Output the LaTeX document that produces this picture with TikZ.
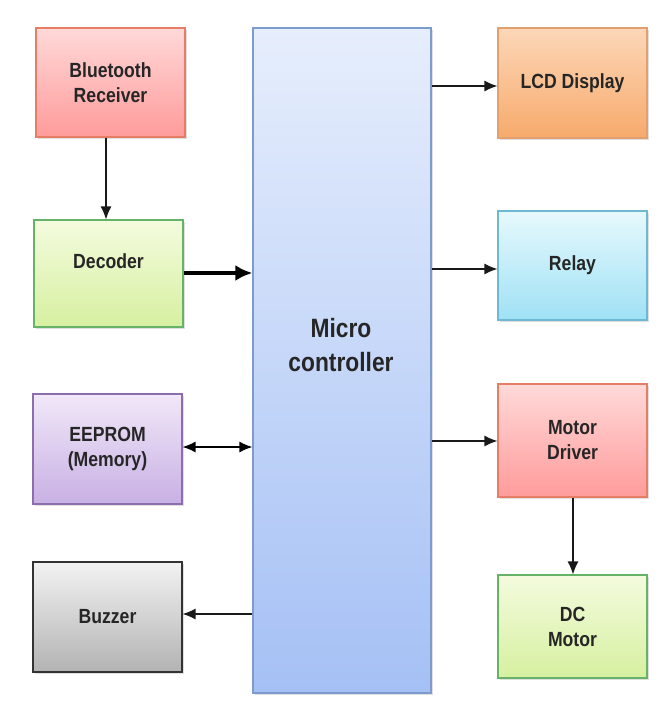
\documentclass[tikz,border=0pt]{standalone}
\usepackage{fontspec}
\setmainfont{Liberation Sans}[FakeStretch=0.86]
\usetikzlibrary{arrows.meta,shadows}

\definecolor{txt}{HTML}{262626}
\tikzset{
  blk/.style={draw, line width=1.1pt, minimum width=149pt, minimum height=109pt,
    inner sep=0pt, align=center, text=txt,
    font=\bfseries\fontsize{20.5}{25}\selectfont,
    drop shadow={opacity=0.25, shadow xshift=1.6pt, shadow yshift=-1.6pt}},
  redblk/.style={blk, draw=red!45!brown!70, top color=red!15!white, bottom color=red!40!white!95!pink},
  greenblk/.style={blk, draw=green!50!black!60, top color={rgb,255:red,244;green,251;blue,222}, bottom color={rgb,255:red,214;green,240;blue,160}},
  tip/.tip={Latex[length=13pt,width=11pt]},
  link/.style={-tip, line width=1.3pt, draw=black!90},
}

\begin{document}
\begin{tikzpicture}[x=1pt,y=-1pt]
  \useasboundingbox[fill=white] (0,0) rectangle (658,727);

  % left column
  \node[redblk, minimum height=109pt] (bt) at (110.5,82.5) {Bluetooth\\Receiver};
  \node[greenblk, minimum height=107pt] (dec) at (108.5,273.5) {};
  \node[text=txt, font=\bfseries\fontsize{20.5}{25}\selectfont] (declbl) at (108.5,261) {Decoder};
  \node[blk, minimum height=110pt, draw={rgb,255:red,140;green,110;blue,175},
        top color={rgb,255:red,241;green,232;blue,248}, bottom color={rgb,255:red,200;green,176;blue,228}]
        (eep) at (107.5,449) {EEPROM\\(Memory)};
  \node[blk, minimum height=110pt, draw=black!80,
        top color=black!5, bottom color=black!30] (buz) at (107.5,617) {Buzzer};

  % microcontroller
  \node[blk, minimum width=178pt, minimum height=665pt, line width=1.2pt,
        draw={rgb,255:red,125;green,155;blue,205},
        top color={rgb,255:red,230;green,238;blue,252}, bottom color={rgb,255:red,165;green,192;blue,245}] (mc) at (342,360.5) {};
  \node[text=txt, align=center, font=\bfseries\fontsize{26.5}{34}\selectfont] (mclbl) at (341,345) {Micro\\controller};

  % right column
  \node[blk, minimum height=110pt, draw={rgb,255:red,225;green,160;blue,110},
        top color={rgb,255:red,252;green,215;blue,184}, bottom color={rgb,255:red,247;green,170;blue,108}]
        (lcd) at (572.5,83) {LCD Display};
  \node[blk, minimum height=109pt, draw={rgb,255:red,110;green,185;blue,210},
        top color={rgb,255:red,230;green,249;blue,253}, bottom color={rgb,255:red,160;green,225;blue,245}]
        (rel) at (572.5,265.5) {Relay};
  \node[redblk, minimum height=113pt] (md) at (572.5,440.5) {Motor\\Driver};
  \node[greenblk, minimum height=103pt] (dcm) at (572.5,626.5) {DC\\Motor};

  % connectors
  \draw[link] (106,0 |- bt.south) -- (106,0 |- dec.north);
  \draw[-{Latex[length=17pt,width=16pt]}, line width=4.5pt] (dec.east |- 0,273) -- (mc.west |- 0,273);
  \draw[tip-tip, line width=1.3pt] (eep.east |- 0,447) -- (mc.west |- 0,447);
  \draw[link] (mc.west |- 0,614) -- (buz.east |- 0,614);
  \draw[link] (mc.east |- 0,86) -- (lcd.west |- 0,86);
  \draw[link] (mc.east |- 0,269) -- (rel.west |- 0,269);
  \draw[link] (mc.east |- 0,441) -- (md.west |- 0,441);
  \draw[link] (573,0 |- md.south) -- (573,0 |- dcm.north);
\end{tikzpicture}
\end{document}
